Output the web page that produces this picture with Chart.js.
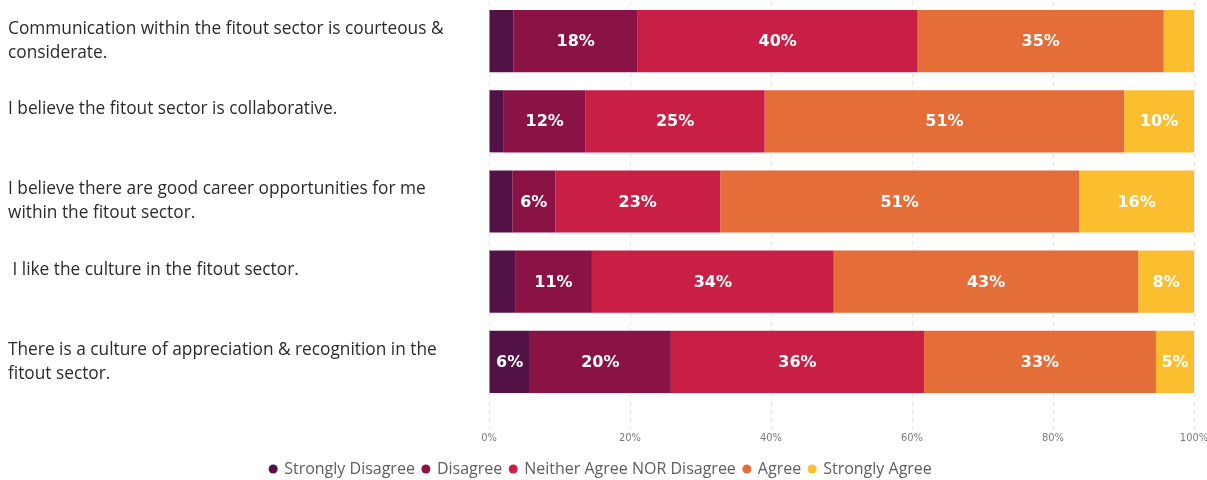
<!DOCTYPE html>
<html>
<head>
<meta charset="utf-8">
<script src="https://cdn.jsdelivr.net/npm/chart.js@4"></script>
<style>
  html, body { margin: 0; padding: 0; background: #fff; overflow: hidden; }
  #wrap { width: 1207px; height: 480px; overflow: hidden; }
</style>
</head>
<body>
<div id="wrap"><canvas id="surveyChart" width="1222" height="480"></canvas></div>
<script>
// survey statements, already split into the lines they wrap to
const statements = [
    ['Communication within the fitout sector is courteous &', 'considerate.'],
    ['I believe the fitout sector is collaborative.', ''],
    ['I believe there are good career opportunities for me', 'within the fitout sector.'],
    [' I like the culture in the fitout sector.', ''],
    ['There is a culture of appreciation & recognition in the', 'fitout sector.']
];
const responses = ['Strongly Disagree', 'Disagree', 'Neither Agree NOR Disagree', 'Agree', 'Strongly Agree'];

// share of respondents (%) per statement
const stronglyDisagree = [3.5, 2.1, 3.3, 3.7, 5.8];
const disagree = [17.6, 11.6, 6.1, 10.9, 20.0];
const neither = [39.7, 25.4, 23.4, 34.3, 35.9];
const agree = [34.9, 51.0, 50.9, 43.2, 32.9];
const stronglyAgree = [4.3, 9.9, 16.3, 7.9, 5.4];

const percentTicks = [0, 20, 40, 60, 80, 100];

const responseColors = ['#521245', '#8a1244', '#c91f46', '#e56d38', '#fbbe2e'];
const gridGrey = '#e3e3e3';

// white % text inside every segment that is wide enough
const segmentLabels = {
    id: 'segmentLabels',
    afterDatasetsDraw(chart) {
        const ctx = chart.ctx;
        ctx.save();
        ctx.font = 'bold 16px "DejaVu Sans", sans-serif';
        ctx.fillStyle = '#ffffff';
        ctx.textAlign = 'center';
        ctx.textBaseline = 'middle';
        chart.data.datasets.forEach((ds, i) => {
            chart.getDatasetMeta(i).data.forEach((bar, j) => {
                const v = ds.data[j];
                if (v < 5) return;
                const p = bar.getCenterPoint();
                ctx.fillText(Math.round(v) + '%', p.x, p.y + 1);
            });
        });
        ctx.restore();
    }
};

const seriesValues = [stronglyDisagree, disagree, neither, agree, stronglyAgree];

new Chart(document.getElementById('surveyChart'), {
    type: 'bar',
    data: {
        labels: statements,
        datasets: responses.map((name, i) => ({
            label: name,
            data: seriesValues[i],
            backgroundColor: responseColors[i],
            borderWidth: 0,
            barPercentage: 1,
            categoryPercentage: 0.775
        }))
    },
    options: {
        indexAxis: 'y',
        responsive: false,
        animation: false,
        devicePixelRatio: 1,
        layout: { padding: { left: 8, right: 28, top: 1, bottom: -7 } },
        scales: {
            x: {
                stacked: true,
                min: 0,
                max: 100,
                afterBuildTicks: (scale) => { scale.ticks = percentTicks.map(v => ({ value: v })); },
                afterFit: (scale) => { scale.height = 51; },
                grid: {
                    color: gridGrey,
                    tickLength: 27,
                    tickColor: gridGrey,
                    tickBorderDash: [4, 4]
                },
                border: { display: false, dash: [4, 4] },
                ticks: {
                    padding: 3,
                    color: '#7a7a7a',
                    font: { family: '"DejaVu Sans Condensed", "Liberation Sans Narrow", sans-serif', size: 11 },
                    callback: (v) => v + '%'
                }
            },
            y: {
                stacked: true,
                grid: { display: false },
                border: { display: false },
                afterFit: (scale) => {
                    scale.width = 481;
                    scale.paddingTop = 0;
                    scale.paddingBottom = 0;
                },
                ticks: {
                    crossAlign: 'far',
                    padding: 0,
                    color: '#2b2b2b',
                    font: { family: '"Open Sans", sans-serif', size: 17.3, lineHeight: 24 / 17.3 }
                }
            }
        },
        plugins: {
            tooltip: { enabled: false },
            legend: {
                position: 'bottom',
                labels: {
                    usePointStyle: true,
                    pointStyle: 'circle',
                    boxWidth: 6,
                    boxHeight: 6.4,
                    padding: 8,
                    color: '#605e5c',
                    font: { family: '"Open Sans", sans-serif', size: 16 }
                }
            }
        }
    },
    plugins: [segmentLabels]
});
</script>
</body>
</html>
